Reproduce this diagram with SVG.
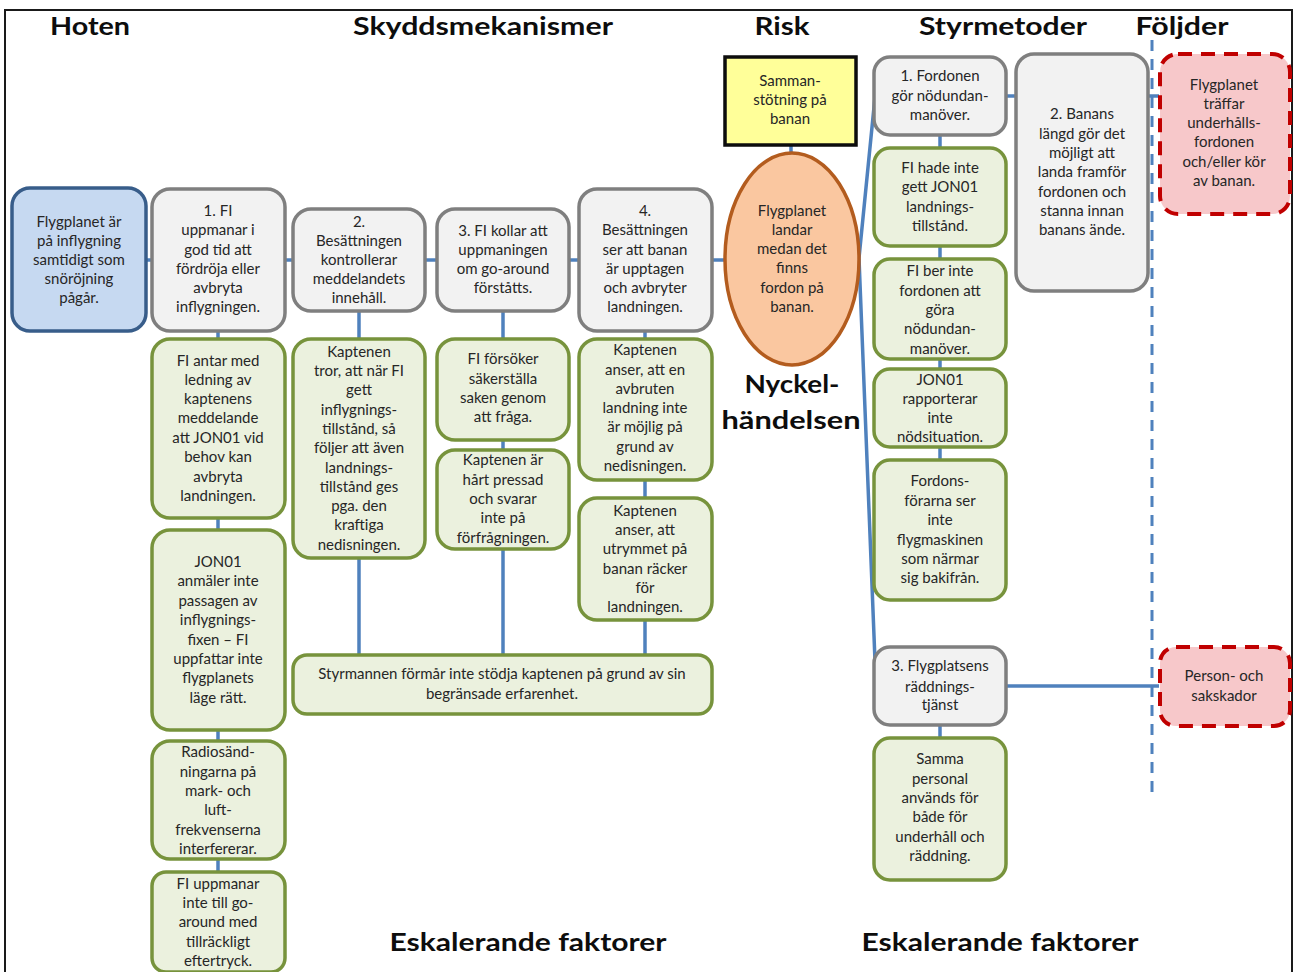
<svg xmlns="http://www.w3.org/2000/svg" width="1294" height="972" viewBox="0 0 1294 972">
<defs>
<style>
.t{font-family:Lato,"Liberation Sans",sans-serif;font-size:15px;fill:#262626;text-anchor:middle}
.h{font-family:Lato,"Liberation Sans",sans-serif;font-size:25px;font-weight:bold;fill:#0d0d0d;text-anchor:middle}
.gr{fill:#f2f2f2;stroke:#7f7f7f;stroke-width:3.5}
.gn{fill:#ebf1de;stroke:#77933c;stroke-width:3.5}
.bl{fill:#c6d9f1;stroke:#385d8a;stroke-width:3.5}
.cq{fill:#f7c8ca;stroke:#c00000;stroke-width:4;stroke-dasharray:14 9}
.c{stroke:#4f81bd;stroke-width:3.5;fill:none}
</style>
</defs>
<rect x="0" y="0" width="1294" height="972" fill="#ffffff"/>
<path d="M5,972 V10 H1292 V972" fill="none" stroke="#1a1a1a" stroke-width="2"/>

<g id="headers">
<text class="h" x="90" y="35" textLength="80" lengthAdjust="spacingAndGlyphs">Hoten</text>
<text class="h" x="483" y="35" textLength="260" lengthAdjust="spacingAndGlyphs">Skyddsmekanismer</text>
<text class="h" x="782" y="35" textLength="55" lengthAdjust="spacingAndGlyphs">Risk</text>
<text class="h" x="1003" y="35" textLength="168" lengthAdjust="spacingAndGlyphs">Styrmetoder</text>
<text class="h" x="1182" y="35" textLength="93" lengthAdjust="spacingAndGlyphs">Följder</text>
<text class="h" x="792" y="393" textLength="95" lengthAdjust="spacingAndGlyphs">Nyckel-</text>
<text class="h" x="791" y="429" textLength="139" lengthAdjust="spacingAndGlyphs">händelsen</text>
<text class="h" x="528" y="951" textLength="277" lengthAdjust="spacingAndGlyphs">Eskalerande faktorer</text>
<text class="h" x="1000" y="951" textLength="277" lengthAdjust="spacingAndGlyphs">Eskalerande faktorer</text>
</g>

<g id="connectors">
<line class="c" x1="146" y1="260" x2="152" y2="260"/>
<line class="c" x1="285" y1="260" x2="293" y2="260"/>
<line class="c" x1="425" y1="260" x2="437" y2="260"/>
<line class="c" x1="569" y1="260" x2="579" y2="260"/>
<line class="c" x1="712" y1="260" x2="726" y2="260"/>
<line class="c" x1="791" y1="145" x2="791" y2="153"/>
<polyline class="c" points="875,97 859,258 876,686"/>
<line class="c" x1="1006" y1="96" x2="1016" y2="96"/>
<line class="c" x1="1148" y1="96" x2="1159" y2="96"/>
<line class="c" x1="1006" y1="686" x2="1159" y2="686"/>
<line class="c" x1="218" y1="331" x2="218" y2="339"/>
<line class="c" x1="218" y1="518" x2="218" y2="530"/>
<line class="c" x1="218" y1="730" x2="218" y2="741"/>
<line class="c" x1="218" y1="859" x2="218" y2="872"/>
<line class="c" x1="359" y1="311" x2="359" y2="339"/>
<line class="c" x1="359" y1="558" x2="359" y2="655"/>
<line class="c" x1="503" y1="311" x2="503" y2="339"/>
<line class="c" x1="503" y1="440" x2="503" y2="450"/>
<line class="c" x1="503" y1="549" x2="503" y2="655"/>
<line class="c" x1="645" y1="331" x2="645" y2="339"/>
<line class="c" x1="645" y1="480" x2="645" y2="498"/>
<line class="c" x1="645" y1="620" x2="645" y2="655"/>
<line class="c" x1="940" y1="135" x2="940" y2="148"/>
<line class="c" x1="940" y1="246" x2="940" y2="259"/>
<line class="c" x1="940" y1="359" x2="940" y2="369"/>
<line class="c" x1="940" y1="447" x2="940" y2="460"/>
<line class="c" x1="940" y1="725" x2="940" y2="738"/>
<line x1="1152" y1="40" x2="1152" y2="792" stroke="#4f81bd" stroke-width="3" stroke-dasharray="11 8"/>
</g>

<g id="threat">
<rect class="bl" x="12" y="188" width="134" height="143" rx="18"/>
<text class="t"><tspan x="79" y="227">Flygplanet är</tspan><tspan x="79" y="246">på inflygning</tspan><tspan x="79" y="265">samtidigt som</tspan><tspan x="79" y="284">snöröjning</tspan><tspan x="79" y="303">pågår.</tspan></text>
</g>

<g id="barrier1">
<rect class="gr" x="152" y="189" width="133" height="142" rx="18"/>
<text class="t"><tspan x="218" y="216">1. FI</tspan><tspan x="218" y="235">uppmanar i</tspan><tspan x="218" y="255">god tid att</tspan><tspan x="218" y="274">fördröja eller</tspan><tspan x="218" y="293">avbryta</tspan><tspan x="218" y="312">inflygningen.</tspan></text>
</g>
<g id="barrier2">
<rect class="gr" x="293" y="209" width="132" height="102" rx="18"/>
<text class="t"><tspan x="359" y="227">2.</tspan><tspan x="359" y="246">Besättningen</tspan><tspan x="359" y="265">kontrollerar</tspan><tspan x="359" y="284">meddelandets</tspan><tspan x="359" y="303">innehåll.</tspan></text>
</g>
<g id="barrier3">
<rect class="gr" x="437" y="209" width="132" height="102" rx="18"/>
<text class="t"><tspan x="503" y="236">3. FI kollar att</tspan><tspan x="503" y="255">uppmaningen</tspan><tspan x="503" y="274">om go-around</tspan><tspan x="503" y="293">förståtts.</tspan></text>
</g>
<g id="barrier4">
<rect class="gr" x="579" y="189" width="133" height="142" rx="18"/>
<text class="t"><tspan x="645" y="216">4.</tspan><tspan x="645" y="235">Besättningen</tspan><tspan x="645" y="255">ser att banan</tspan><tspan x="645" y="274">är upptagen</tspan><tspan x="645" y="293">och avbryter</tspan><tspan x="645" y="312">landningen.</tspan></text>
</g>

<g id="esc1a">
<rect class="gn" x="152" y="339" width="133" height="179" rx="18"/>
<text class="t"><tspan x="218" y="366">FI antar med</tspan><tspan x="218" y="385">ledning av</tspan><tspan x="218" y="404">kaptenens</tspan><tspan x="218" y="423">meddelande</tspan><tspan x="218" y="443">att JON01 vid</tspan><tspan x="218" y="462">behov kan</tspan><tspan x="218" y="482">avbryta</tspan><tspan x="218" y="501">landningen.</tspan></text>
</g>
<g id="esc1b">
<rect class="gn" x="152" y="530" width="133" height="200" rx="18"/>
<text class="t"><tspan x="218" y="567">JON01</tspan><tspan x="218" y="586">anmäler inte</tspan><tspan x="218" y="606">passagen av</tspan><tspan x="218" y="625">inflygnings-</tspan><tspan x="218" y="645">fixen – FI</tspan><tspan x="218" y="664">uppfattar inte</tspan><tspan x="218" y="683">flygplanets</tspan><tspan x="218" y="703">läge rätt.</tspan></text>
</g>
<g id="esc1c">
<rect class="gn" x="152" y="741" width="133" height="118" rx="18"/>
<text class="t"><tspan x="218" y="757">Radiosänd-</tspan><tspan x="218" y="777">ningarna på</tspan><tspan x="218" y="796">mark- och</tspan><tspan x="218" y="815">luft-</tspan><tspan x="218" y="835">frekvenserna</tspan><tspan x="218" y="854">interfererar.</tspan></text>
</g>
<g id="esc1d">
<rect class="gn" x="152" y="872" width="133" height="100" rx="14"/>
<text class="t"><tspan x="218" y="889">FI uppmanar</tspan><tspan x="218" y="908">inte till go-</tspan><tspan x="218" y="927">around med</tspan><tspan x="218" y="947">tillräckligt</tspan><tspan x="218" y="966">eftertryck.</tspan></text>
</g>

<g id="esc2">
<rect class="gn" x="293" y="339" width="132" height="219" rx="18"/>
<text class="t"><tspan x="359" y="357">Kaptenen</tspan><tspan x="359" y="376">tror, att när FI</tspan><tspan x="359" y="395">gett</tspan><tspan x="359" y="415">inflygnings-</tspan><tspan x="359" y="434">tillstånd, så</tspan><tspan x="359" y="453">följer att även</tspan><tspan x="359" y="473">landnings-</tspan><tspan x="359" y="492">tillstånd ges</tspan><tspan x="359" y="511">pga. den</tspan><tspan x="359" y="530">kraftiga</tspan><tspan x="359" y="550">nedisningen.</tspan></text>
</g>
<g id="esc3a">
<rect class="gn" x="437" y="339" width="132" height="101" rx="18"/>
<text class="t"><tspan x="503" y="364">FI försöker</tspan><tspan x="503" y="384">säkerställa</tspan><tspan x="503" y="403">saken genom</tspan><tspan x="503" y="422">att fråga.</tspan></text>
</g>
<g id="esc3b">
<rect class="gn" x="437" y="450" width="132" height="99" rx="18"/>
<text class="t"><tspan x="503" y="465">Kaptenen är</tspan><tspan x="503" y="485">hårt pressad</tspan><tspan x="503" y="504">och svarar</tspan><tspan x="503" y="523">inte på</tspan><tspan x="503" y="543">förfrågningen.</tspan></text>
</g>
<g id="esc4a">
<rect class="gn" x="579" y="339" width="133" height="141" rx="18"/>
<text class="t"><tspan x="645" y="355">Kaptenen</tspan><tspan x="645" y="375">anser, att en</tspan><tspan x="645" y="394">avbruten</tspan><tspan x="645" y="413">landning inte</tspan><tspan x="645" y="432">är möjlig på</tspan><tspan x="645" y="452">grund av</tspan><tspan x="645" y="471">nedisningen.</tspan></text>
</g>
<g id="esc4b">
<rect class="gn" x="579" y="498" width="133" height="122" rx="18"/>
<text class="t"><tspan x="645" y="516">Kaptenen</tspan><tspan x="645" y="535">anser, att</tspan><tspan x="645" y="554">utrymmet på</tspan><tspan x="645" y="574">banan räcker</tspan><tspan x="645" y="593">för</tspan><tspan x="645" y="612">landningen.</tspan></text>
</g>
<g id="esc-styrman">
<rect class="gn" x="293" y="655" width="419" height="59" rx="14"/>
<text class="t"><tspan x="502" y="679">Styrmannen förmår inte stödja kaptenen på grund av sin</tspan><tspan x="502" y="699">begränsade erfarenhet.</tspan></text>
</g>

<g id="top-event">
<rect x="725" y="57" width="131" height="88" fill="#ffff99" stroke="#0d0d0d" stroke-width="3.5"/>
<text class="t"><tspan x="790" y="86">Samman-</tspan><tspan x="790" y="105">stötning på</tspan><tspan x="790" y="124">banan</tspan></text>
</g>
<g id="key-event">
<ellipse cx="792" cy="259" rx="67" ry="106" fill="#fac7a0" stroke="#b35c1e" stroke-width="3.5"/>
<text class="t"><tspan x="792" y="216">Flygplanet</tspan><tspan x="792" y="235">landar</tspan><tspan x="792" y="254">medan det</tspan><tspan x="792" y="273">finns</tspan><tspan x="792" y="293">fordon på</tspan><tspan x="792" y="312">banan.</tspan></text>
</g>

<g id="control1">
<rect class="gr" x="874" y="57" width="132" height="78" rx="16"/>
<text class="t"><tspan x="940" y="81">1. Fordonen</tspan><tspan x="940" y="101">gör nödundan-</tspan><tspan x="940" y="120">manöver.</tspan></text>
</g>
<g id="esc-c1a">
<rect class="gn" x="874" y="148" width="132" height="98" rx="16"/>
<text class="t"><tspan x="940" y="173">FI hade inte</tspan><tspan x="940" y="192">gett JON01</tspan><tspan x="940" y="212">landnings-</tspan><tspan x="940" y="231">tillstånd.</tspan></text>
</g>
<g id="esc-c1b">
<rect class="gn" x="874" y="259" width="132" height="100" rx="16"/>
<text class="t"><tspan x="940" y="276">FI ber inte</tspan><tspan x="940" y="296">fordonen att</tspan><tspan x="940" y="315">göra</tspan><tspan x="940" y="334">nödundan-</tspan><tspan x="940" y="354">manöver.</tspan></text>
</g>
<g id="esc-c1c">
<rect class="gn" x="874" y="369" width="132" height="78" rx="16"/>
<text class="t"><tspan x="940" y="385">JON01</tspan><tspan x="940" y="404">rapporterar</tspan><tspan x="940" y="423">inte</tspan><tspan x="940" y="442">nödsituation.</tspan></text>
</g>
<g id="esc-c1d">
<rect class="gn" x="874" y="460" width="132" height="140" rx="16"/>
<text class="t"><tspan x="940" y="486">Fordons-</tspan><tspan x="940" y="506">förarna ser</tspan><tspan x="940" y="525">inte</tspan><tspan x="940" y="545">flygmaskinen</tspan><tspan x="940" y="564">som närmar</tspan><tspan x="940" y="583">sig bakifrån.</tspan></text>
</g>
<g id="control3">
<rect class="gr" x="874" y="647" width="132" height="78" rx="16"/>
<text class="t"><tspan x="940" y="671">3. Flygplatsens</tspan><tspan x="940" y="692">räddnings-</tspan><tspan x="940" y="710">tjänst</tspan></text>
</g>
<g id="esc-c3">
<rect class="gn" x="874" y="738" width="132" height="142" rx="16"/>
<text class="t"><tspan x="940" y="764">Samma</tspan><tspan x="940" y="784">personal</tspan><tspan x="940" y="803">används för</tspan><tspan x="940" y="822">både för</tspan><tspan x="940" y="842">underhåll och</tspan><tspan x="940" y="861">räddning.</tspan></text>
</g>
<g id="control2">
<rect class="gr" x="1016" y="54" width="132" height="237" rx="18"/>
<text class="t"><tspan x="1082" y="119">2. Banans</tspan><tspan x="1082" y="139">längd gör det</tspan><tspan x="1082" y="158">möjligt att</tspan><tspan x="1082" y="177">landa framför</tspan><tspan x="1082" y="197">fordonen och</tspan><tspan x="1082" y="216">stanna innan</tspan><tspan x="1082" y="235">banans ände.</tspan></text>
</g>

<g id="consequence1">
<rect class="cq" x="1160" y="54" width="130" height="160" rx="18"/>
<text class="t"><tspan x="1224" y="90">Flygplanet</tspan><tspan x="1224" y="109">träffar</tspan><tspan x="1224" y="128">underhålls-</tspan><tspan x="1224" y="147">fordonen</tspan><tspan x="1224" y="167">och/eller kör</tspan><tspan x="1224" y="186">av banan.</tspan></text>
</g>
<g id="consequence2">
<rect class="cq" x="1160" y="647" width="130" height="79" rx="16"/>
<text class="t"><tspan x="1224" y="681">Person- och</tspan><tspan x="1224" y="701">sakskador</tspan></text>
</g>
</svg>
